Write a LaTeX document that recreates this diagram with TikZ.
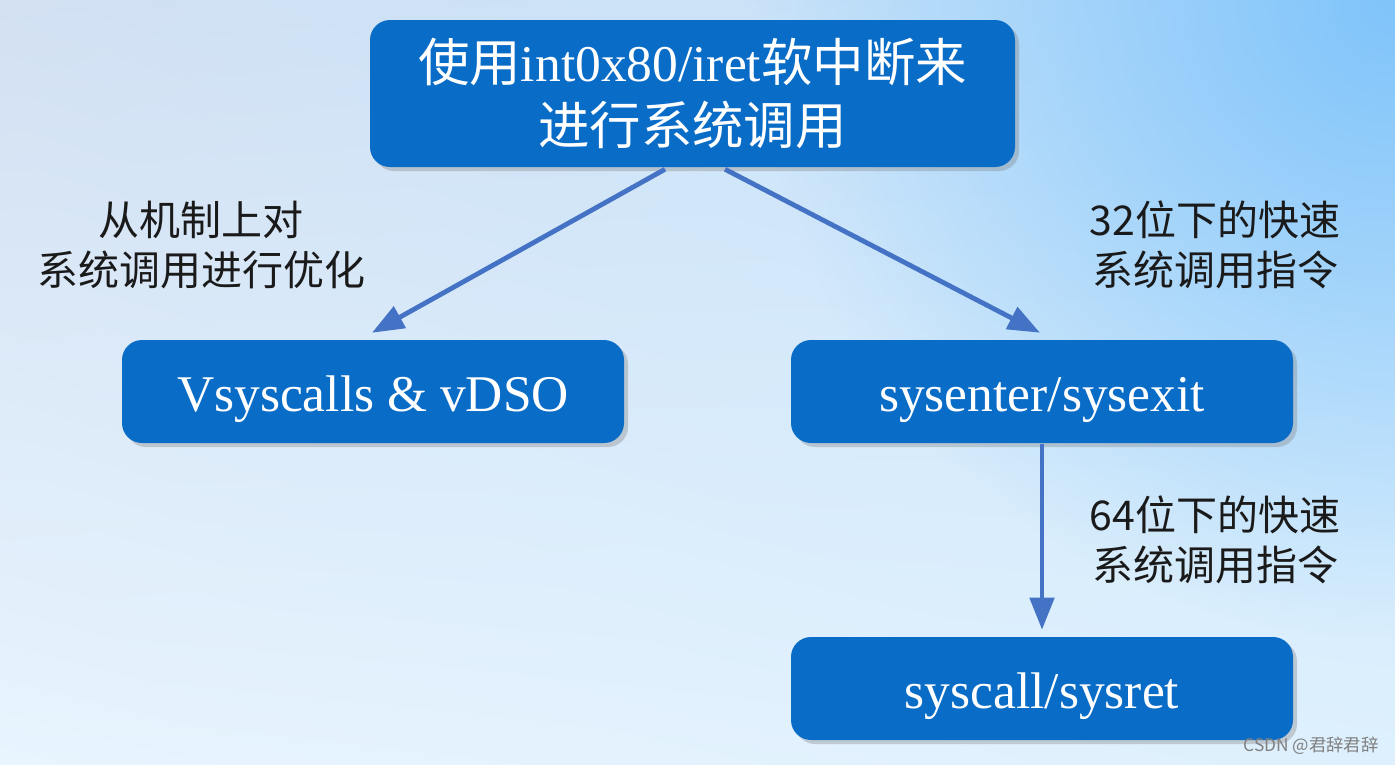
\documentclass[tikz,border=0pt]{standalone}
\usepackage{fontspec}
\setmainfont{Liberation Serif}
\newfontfamily\cjk{Noto Sans CJK SC}
\usetikzlibrary{calc,shadows,arrows.meta,shadings,fadings}
\definecolor{boxblue}{RGB}{9,108,199}
\definecolor{arrowblue}{HTML}{4472C4}
\definecolor{labeltext}{HTML}{1A1A1A}
\definecolor{bgul}{RGB}{210,224,242}
\definecolor{bgur}{RGB}{196,228,252}
\definecolor{bgll}{RGB}{232,244,254}
\definecolor{bglr}{RGB}{222,240,253}
\definecolor{bgglow}{RGB}{128,196,250}
\tikzfading[name=glowfade, inner color=transparent!0, outer color=transparent!100]
\tikzset{
  bluebox/.style={draw=none, fill=boxblue, rounded corners=15pt, text=white,
    align=center, inner sep=0pt,
    drop shadow={opacity=0.35, shadow xshift=3pt, shadow yshift=-3pt},
    font=\fontsize{38.6}{47.25}\selectfont},
  smallbox/.style={bluebox, minimum width=376.5pt, minimum height=77.25pt,
    text height=32pt, text depth=2pt},
  lbl/.style={text=labeltext, align=center, inner sep=0pt,
    font=\cjk\fontsize{30.75}{37.5}\selectfont},
  conn/.style={draw=arrowblue, line width=3.6pt,
    -{Triangle[length=24pt,width=18pt]}}
}
\begin{document}
\begin{tikzpicture}[x=0.75pt,y=-0.75pt]
\useasboundingbox (0,0) rectangle (1395,764);
\shade[upper left=bgul, upper right=bgur, lower left=bgll, lower right=bglr]
  (0,0) rectangle (1395,764);
\begin{scope}
\clip (0,0) rectangle (1395,764);
\fill[bgglow, path fading=glowfade] (1395,0) circle (640);
\end{scope}

\node[bluebox, minimum width=483.75pt, minimum height=110.25pt] (top) at (692.5,93.5)
  {{\cjk 使用}int0x80/iret{\cjk 软中断来}\\{\cjk 进行系统调用}};
\node[smallbox] (left) at (373,391.5) {Vsyscalls \& vDSO};
\node[smallbox] (right) at (1042,391.5) {sysenter/sysexit};
\node[smallbox] (bottom) at (1042,688.5) {syscall/sysret};

\node[lbl] (l1) at (201,245) {从机制上对\\系统调用进行优化};
\node[lbl] (l2) at (1215,245) {32位下的快速\\系统调用指令};
\node[lbl] (l3) at (1215,540) {64位下的快速\\系统调用指令};

\draw[conn] ($(top.south)+(-27.5,2)$) -- ($(left.north)+(-1,-7)$);
\draw[conn] ($(top.south)+(32.5,2)$) -- ($(right.north)+(-2,-7)$);
\draw[conn] ($(right.south)+(0,1)$) -- ($(bottom.north)+(0,-7)$);

\node[text=black!50, inner sep=0pt, font=\cjk\fontsize{13}{15}\selectfont] (wm) at (1311,746) {CSDN @君辞君辞};
\end{tikzpicture}
\end{document}
